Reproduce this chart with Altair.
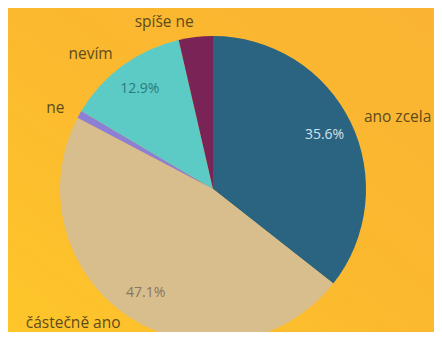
import altair as alt
import pandas as pd

categories = ["ano zcela", "částečně ano", "ne", "nevím", "spíše ne"]
values = [35.6, 47.1, 0.8, 12.9, 3.6]
palette = ["#2B6481", "#D9BE8D", "#8C7FD6", "#5CCBC6", "#7A2357"]

df = pd.DataFrame({"category": categories, "value": values, "idx": list(range(len(categories)))})

W, H = 426, 324
CX, CY = 205, 181
theta_scale = alt.Scale(domain=[0, 100])
font = "Open Sans"

bg = alt.Chart(pd.DataFrame({"a": [0]})).mark_rect(
    fill=alt.Gradient(
        gradient="linear", x1=0, y1=1, x2=1, y2=0,
        stops=[alt.GradientStop(color="#FEC62A", offset=0),
               alt.GradientStop(color="#FBB92F", offset=0.5),
               alt.GradientStop(color="#FAB432", offset=1)],
    )
).encode(x=alt.value(0), x2=alt.value(W), y=alt.value(0), y2=alt.value(H))

arc = alt.Chart(df).mark_arc(radius=153, stroke=None).encode(
    theta=alt.Theta("value:Q", stack=True, scale=theta_scale),
    color=alt.Color("category:N", scale=alt.Scale(domain=categories, range=palette), legend=None),
    order=alt.Order("idx:Q", sort="ascending"),
    x=alt.value(CX), y=alt.value(CY),
)

base = alt.Chart(df).transform_window(
    cum="sum(value)", sort=[alt.SortField("idx", order="ascending")], frame=[None, 0]
).transform_calculate(
    mid="datum.cum - datum.value / 2",
    pct="format(datum.value, '.1f') + '%'",
)

def outer(filter_expr, align, dx=0, dy=2):
    return base.transform_filter(filter_expr).mark_text(
        radius=170, align=align, baseline="middle", dx=dx, dy=dy,
        font=font, fontSize=15.5, color="#5e4b1c",
    ).encode(
        theta=alt.Theta("mid:Q", scale=theta_scale),
        text="category:N",
        x=alt.value(CX), y=alt.value(CY),
    )

def inner(cat, col):
    return base.transform_filter(alt.datum.category == cat).mark_text(
        radius=124, align="center", baseline="middle",
        font=font, fontSize=14, color=col,
    ).encode(
        theta=alt.Theta("mid:Q", scale=theta_scale),
        text="pct:N",
        x=alt.value(CX), y=alt.value(CY),
    )

chart = alt.layer(
    bg,
    arc,
    outer(alt.datum.category == "ano zcela", "left", dx=-2),
    outer((alt.datum.category != "ano zcela") & (alt.datum.category != "částečně ano"), "right"),
    outer(alt.datum.category == "částečně ano", "right", dy=-9),
    inner("ano zcela", "#cfe2ec"),
    inner("nevím", "#2c7a7c"),
    inner("částečně ano", "#857763"),
).properties(
    width=W, height=H,
    background="#FBB92F",
    padding=0,
    autosize=alt.AutoSizeParams(type="none"),
).configure_view(stroke=None)

chart.save("out.html", embed_options={"renderer": "svg", "actions": False})
